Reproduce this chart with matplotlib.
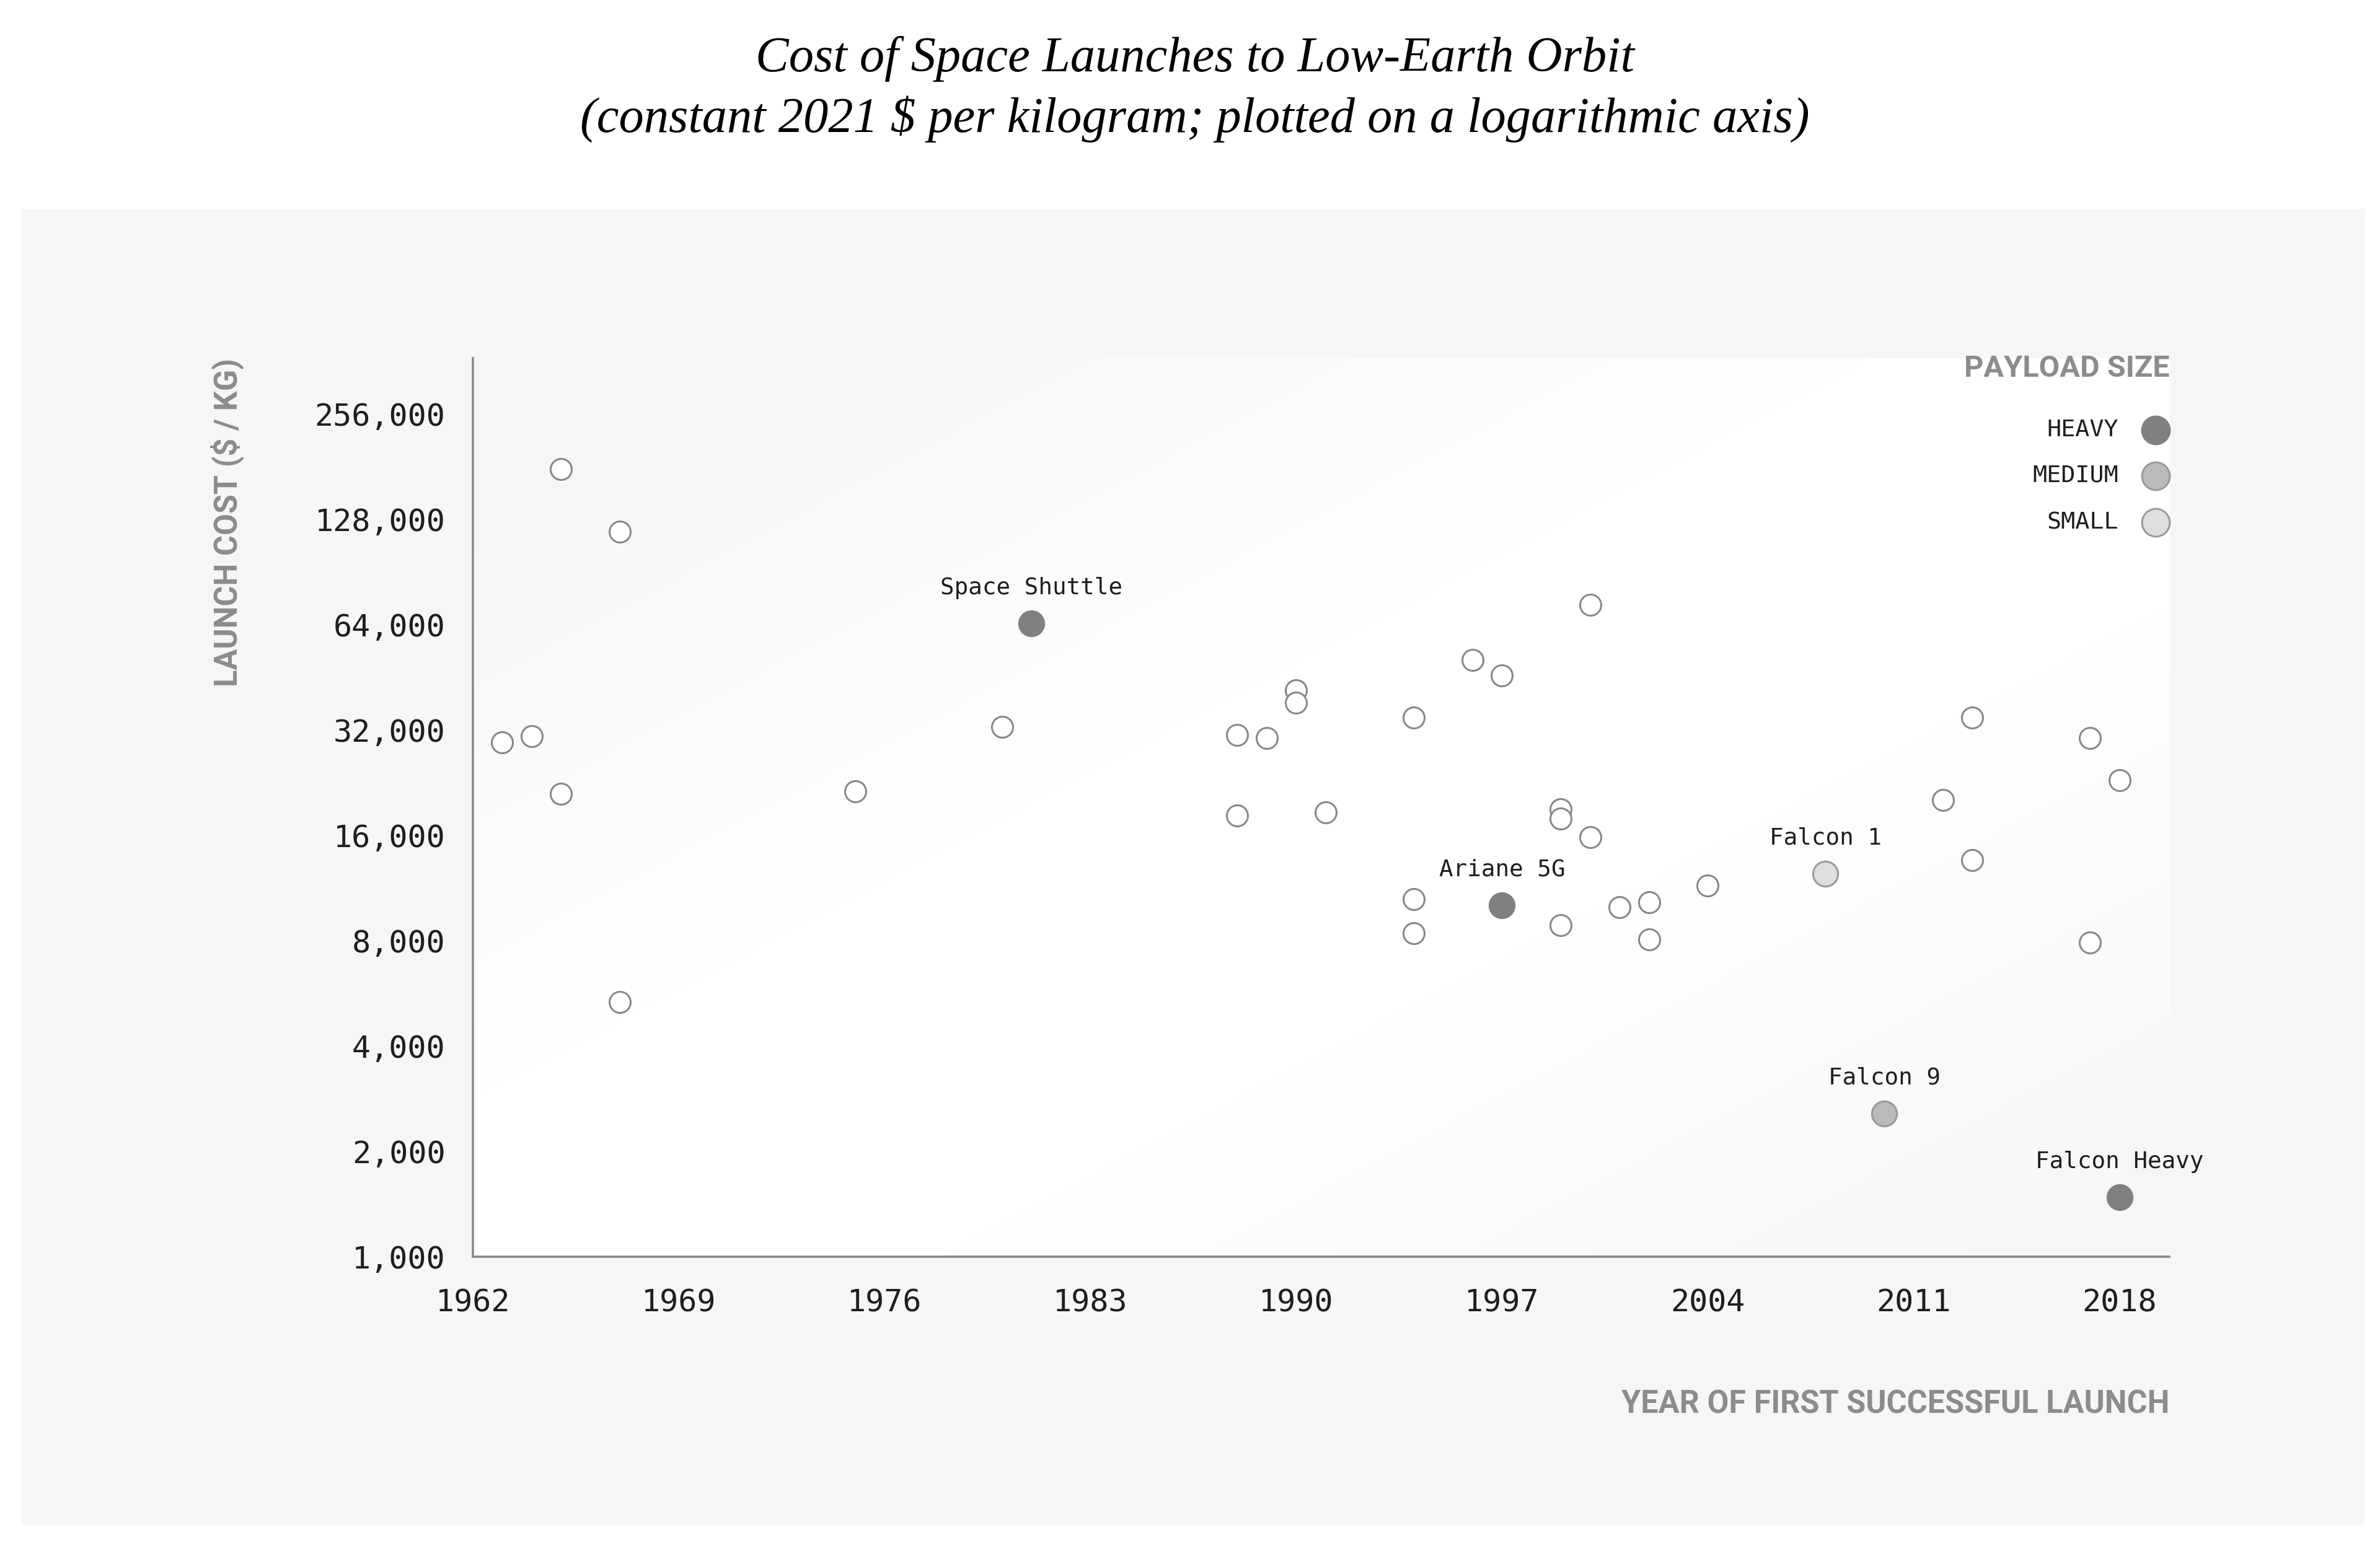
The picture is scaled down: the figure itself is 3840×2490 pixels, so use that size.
import numpy as np
import matplotlib
matplotlib.use("Agg")
import matplotlib.pyplot as plt
from matplotlib.patches import Rectangle
from matplotlib.ticker import FixedLocator, FixedFormatter, NullLocator

# Datos: cohetes sin etiqueta
anios = [1963, 1964, 1965, 1965, 1967, 1967, 1975, 1980, 1988, 1988,
         1989, 1990, 1990, 1991, 1994, 1994, 1994, 1996, 1997, 1999,
         1999, 1999, 2000, 2000, 2001, 2002, 2002, 2004, 2012, 2013,
         2013, 2017, 2017, 2018]
costos = [29500, 30700, 178000, 21000, 118000, 5350, 21400, 32600, 31000, 18200,
          30400, 41600, 38300, 18600, 34700, 10500, 8400, 50800, 45900, 19000,
          17900, 8850, 72900, 15800, 9980, 10300, 8080, 11500, 20200, 34700,
          13600, 30400, 7920, 23000]

# Cohetes con nombre
nombres = ["Space Shuttle", "Ariane 5G", "Falcon 1", "Falcon 9", "Falcon Heavy"]
anios_n = [1981, 1997, 2008, 2010, 2018]
costos_n = [64600, 10100, 12450, 2570, 1480]
carga_n = ["HEAVY", "HEAVY", "SMALL", "MEDIUM", "HEAVY"]

clases = ["HEAVY", "MEDIUM", "SMALL"]
colores = {"HEAVY": "#808080", "MEDIUM": "#bababa", "SMALL": "#dedede"}
bordes = {"HEAVY": "#808080", "MEDIUM": "#9a9a9a", "SMALL": "#9a9a9a"}

yticks = [1000, 2000, 4000, 8000, 16000, 32000, 64000, 128000, 256000]
xticks = [1962, 1969, 1976, 1983, 1990, 1997, 2004, 2011, 2018]

mono = "DejaVu Sans Mono"
cond = "Roboto"
gris = "#8c8c8c"

fig = plt.figure(figsize=(19.2, 12.45), dpi=200)
fig.patch.set_facecolor("white")

# panel gris de fondo
fig.patches.append(Rectangle((0.009, 0.0116), 0.9845, 0.853, transform=fig.transFigure,
                             facecolor="#f6f6f6", edgecolor="none", zorder=-5))

pos = [0.1987, 0.1855, 0.7128, 0.5825]

# degradado detras del area de datos (gris arriba-izq, blanco al centro)
bg = fig.add_axes(pos, zorder=0)
gx, gy = np.meshgrid(np.linspace(0, 1, 300), np.linspace(0, 1, 200))
d = gx - gy
grad = 1 - 0.036 * np.clip((np.abs(d - 0.05) - 0.15) / 0.7, 0, 1)
bg.imshow(grad, cmap="gray", vmin=0, vmax=1, extent=(0, 1, 0, 1), aspect="auto",
          origin="lower", interpolation="bilinear")
bg.axis("off")

ax = fig.add_axes(pos, zorder=1)
ax.patch.set_alpha(0)
ax.set_yscale("log")
ax.set_xlim(1962, 2019.7)
ax.set_ylim(1000, 370000)

ax.scatter(anios, costos, s=150, facecolor="white", edgecolor="#888888", linewidth=1.1,
           zorder=3, clip_on=False)

for n, x, y, c in zip(nombres, anios_n, costos_n, carga_n):
    ax.scatter([x], [y], s=210, facecolor=colores[c], edgecolor=bordes[c], linewidth=1.1,
               zorder=4)
    ax.annotate(n, (x, y), xytext=(0, 17), textcoords="offset points", ha="center",
                va="baseline", fontsize=13.5, family=mono, color="#1e1e1e")

ax.yaxis.set_major_locator(FixedLocator(yticks))
ax.yaxis.set_major_formatter(FixedFormatter([f"{v:,}" for v in yticks]))
ax.yaxis.set_minor_locator(NullLocator())
ax.set_xticks(xticks)
ax.set_xticklabels([str(v) for v in xticks])

for lab in ax.get_xticklabels() + ax.get_yticklabels():
    lab.set_family(mono)
    lab.set_fontsize(18)
    lab.set_color("#1e1e1e")
ax.tick_params(axis="x", length=0, pad=18)
ax.tick_params(axis="y", length=0, pad=16)

for s in ["top", "right"]:
    ax.spines[s].set_visible(False)
for s in ["left", "bottom"]:
    ax.spines[s].set_color("#8a8a8a")
    ax.spines[s].set_linewidth(1.3)

# leyenda hecha a mano
ax.text(1.0, 0.988, "PAYLOAD SIZE", transform=ax.transAxes, ha="right", va="center",
        fontsize=17.5, family=cond, fontweight="bold", color=gris)
ly = [0.920, 0.869, 0.817]
for c, y in zip(clases, ly):
    ax.scatter([0.992], [y], s=260, transform=ax.transAxes, facecolor=colores[c],
               edgecolor=bordes[c], linewidth=1.1, clip_on=False, zorder=5)
    ax.text(0.970, y, c, transform=ax.transAxes, ha="right", va="center",
            fontsize=13.8, family=mono, color="#1e1e1e")

fig.text(0.0955, 0.768, "LAUNCH COST ($ / KG)", rotation=90, ha="center", va="top",
         fontsize=18.2, family=cond, fontweight="bold", color=gris)
fig.text(0.9115, 0.0896, "YEAR OF FIRST SUCCESSFUL LAUNCH", ha="right", va="center",
         fontsize=18.2, family=cond, fontweight="bold", color=gris)

fig.text(0.502, 0.962, "Cost of Space Launches to Low-Earth Orbit", ha="center",
         va="center", fontsize=29, family="Liberation Serif", style="italic", color="black")
fig.text(0.502, 0.923, "(constant 2021 $ per kilogram; plotted on a logarithmic axis)",
         ha="center", va="center", fontsize=29, family="Liberation Serif", style="italic",
         color="black")

fig.savefig("out.png", dpi=200)
